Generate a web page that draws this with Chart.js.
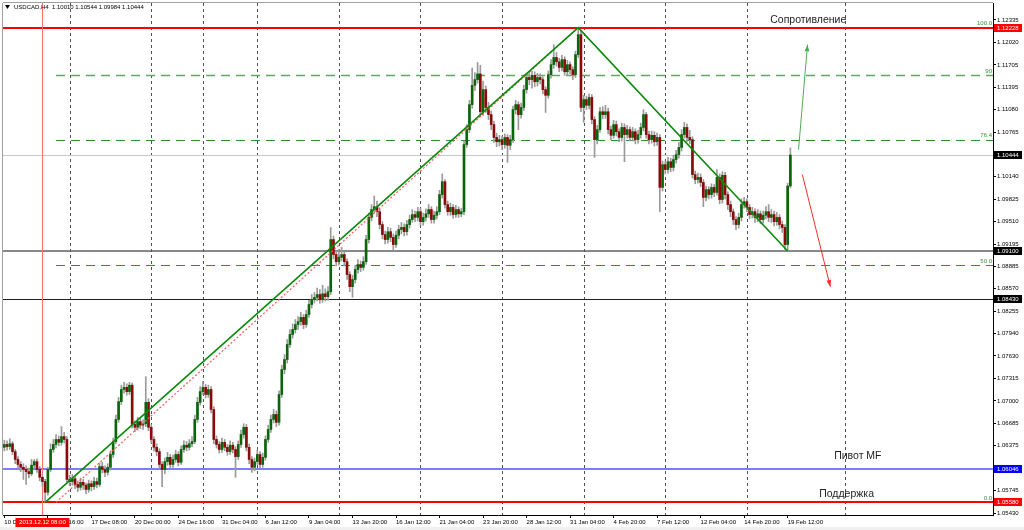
<!DOCTYPE html>
<html>
<head>
<meta charset="utf-8">
<script src="https://cdn.jsdelivr.net/npm/chart.js@4.4.1/dist/chart.umd.min.js"></script>
<style>
  html, body { margin: 0; padding: 0; background: #fff; }
  canvas { display: block; }
</style>
</head>
<body>
<canvas id="chart" width="1024" height="530"></canvas>
<script>
// USDCAD H4, bar 0 = 10 Dec 2013 00:00, last bar = 19 Feb 16:00
const opens = [
  1.0635, 1.0639, 1.0636, 1.0640, 1.0629, 1.0618, 1.0611, 1.0607, 1.0604, 1.0601,
  1.0598, 1.0610, 1.0615, 1.0604, 1.0593, 1.0587, 1.0572, 1.0604, 1.0632, 1.0639,
  1.0646, 1.0642, 1.0650, 1.0646, 1.0590, 1.0587, 1.0591, 1.0583, 1.0579, 1.0586,
  1.0582, 1.0576, 1.0584, 1.0580, 1.0587, 1.0583, 1.0608, 1.0604, 1.0600, 1.0607,
  1.0625, 1.0643, 1.0674, 1.0699, 1.0716, 1.0719, 1.0713, 1.0722, 1.0667, 1.0663,
  1.0671, 1.0666, 1.0668, 1.0698, 1.0663, 1.0646, 1.0635, 1.0629, 1.0611, 1.0604,
  1.0615, 1.0621, 1.0611, 1.0618, 1.0625, 1.0614, 1.0632, 1.0638, 1.0635, 1.0640,
  1.0643, 1.0674, 1.0698, 1.0713, 1.0719, 1.0709, 1.0716, 1.0688, 1.0646, 1.0639,
  1.0632, 1.0642, 1.0635, 1.0629, 1.0638, 1.0632, 1.0622, 1.0639, 1.0653, 1.0663,
  1.0635, 1.0618, 1.0607, 1.0615, 1.0625, 1.0611, 1.0621, 1.0646, 1.0660, 1.0674,
  1.0681, 1.0670, 1.0709, 1.0744, 1.0758, 1.0779, 1.0793, 1.0800, 1.0807, 1.0811,
  1.0817, 1.0807, 1.0821, 1.0835, 1.0842, 1.0845, 1.0849, 1.0842, 1.0850, 1.0846,
  1.0853, 1.0926, 1.0905, 1.0895, 1.0901, 1.0905, 1.0895, 1.0877, 1.0860, 1.0870,
  1.0884, 1.0891, 1.0887, 1.0895, 1.0926, 1.0957, 1.0968, 1.0972, 1.0965, 1.0947,
  1.0933, 1.0926, 1.0937, 1.0929, 1.0919, 1.0932, 1.0940, 1.0943, 1.0937, 1.0947,
  1.0954, 1.0961, 1.0957, 1.0965, 1.0951, 1.0957, 1.0962, 1.0968, 1.0954, 1.0960,
  1.0965, 1.0989, 1.1007, 1.0975, 1.0965, 1.0971, 1.0961, 1.0968, 1.0962, 1.0965,
  1.1059, 1.1080, 1.1115, 1.1142, 1.1150, 1.1158, 1.1105, 1.1136, 1.1111, 1.1101,
  1.1087, 1.1069, 1.1063, 1.1066, 1.1059, 1.1069, 1.1058, 1.1066, 1.1108, 1.1115,
  1.1101, 1.1111, 1.1136, 1.1153, 1.1150, 1.1156, 1.1147, 1.1153, 1.1150, 1.1136,
  1.1128, 1.1157, 1.1171, 1.1181, 1.1175, 1.1167, 1.1178, 1.1161, 1.1171, 1.1164,
  1.1157, 1.1185, 1.1213, 1.1111, 1.1122, 1.1114, 1.1125, 1.1094, 1.1066, 1.1080,
  1.1105, 1.1101, 1.1105, 1.1080, 1.1072, 1.1087, 1.1077, 1.1069, 1.1083, 1.1073,
  1.1080, 1.1069, 1.1077, 1.1066, 1.1073, 1.1083, 1.1101, 1.1073, 1.1066, 1.1072,
  1.1063, 1.1069, 1.0999, 1.1031, 1.1024, 1.1035, 1.1027, 1.1038, 1.1045, 1.1055,
  1.1073, 1.1083, 1.1069, 1.1066, 1.1017, 1.1010, 1.1013, 1.1006, 1.0985, 1.0996,
  1.0989, 1.0999, 1.0992, 1.1013, 1.0982, 1.1016, 1.0989, 1.0975, 1.0965, 1.0954,
  1.0947, 1.0957, 1.0975, 1.0979, 1.0971, 1.0961, 1.0965, 1.0957, 1.0962, 1.0954,
  1.0960, 1.0965, 1.0957, 1.0961, 1.0951, 1.0957, 1.0947, 1.0943, 1.0919, 1.1001
];
const highs = [
  1.0645, 1.0644, 1.0647, 1.0643, 1.0632, 1.0622, 1.0615, 1.0612, 1.0609, 1.0606,
  1.0618, 1.0618, 1.0619, 1.0608, 1.0597, 1.0590, 1.0607, 1.0640, 1.0646, 1.0653,
  1.0651, 1.0664, 1.0656, 1.0650, 1.0596, 1.0597, 1.0594, 1.0588, 1.0592, 1.0590,
  1.0585, 1.0589, 1.0588, 1.0593, 1.0592, 1.0613, 1.0614, 1.0609, 1.0612, 1.0630,
  1.0648, 1.0680, 1.0705, 1.0722, 1.0726, 1.0724, 1.0726, 1.0725, 1.0672, 1.0677,
  1.0675, 1.0674, 1.0734, 1.0703, 1.0667, 1.0650, 1.0640, 1.0633, 1.0615, 1.0620,
  1.0628, 1.0625, 1.0624, 1.0631, 1.0629, 1.0637, 1.0644, 1.0643, 1.0646, 1.0650,
  1.0680, 1.0705, 1.0720, 1.0727, 1.0723, 1.0722, 1.0720, 1.0692, 1.0651, 1.0643,
  1.0648, 1.0646, 1.0639, 1.0644, 1.0642, 1.0636, 1.0644, 1.0659, 1.0668, 1.0667,
  1.0640, 1.0622, 1.0620, 1.0631, 1.0629, 1.0627, 1.0651, 1.0666, 1.0680, 1.0688,
  1.0686, 1.0714, 1.0750, 1.0765, 1.0786, 1.0800, 1.0808, 1.0814, 1.0818, 1.0824,
  1.0821, 1.0827, 1.0841, 1.0849, 1.0852, 1.0858, 1.0856, 1.0862, 1.0857, 1.0860,
  1.0943, 1.0931, 1.0910, 1.0912, 1.0915, 1.0909, 1.0899, 1.0881, 1.0876, 1.0890,
  1.0898, 1.0896, 1.0902, 1.0932, 1.0963, 1.0975, 1.0987, 1.0980, 1.0969, 1.0951,
  1.0938, 1.0943, 1.0942, 1.0934, 1.0938, 1.0946, 1.0950, 1.0948, 1.0953, 1.0960,
  1.0968, 1.0966, 1.0971, 1.0970, 1.0963, 1.0969, 1.0975, 1.0972, 1.0966, 1.0972,
  1.0995, 1.1018, 1.1010, 1.0980, 1.0977, 1.0975, 1.0974, 1.0972, 1.0970, 1.1064,
  1.1087, 1.1121, 1.1166, 1.1160, 1.1174, 1.1170, 1.1148, 1.1141, 1.1118, 1.1106,
  1.1092, 1.1075, 1.1072, 1.1071, 1.1074, 1.1073, 1.1072, 1.1113, 1.1121, 1.1119,
  1.1117, 1.1142, 1.1159, 1.1160, 1.1162, 1.1161, 1.1159, 1.1158, 1.1154, 1.1140,
  1.1162, 1.1178, 1.1199, 1.1188, 1.1180, 1.1184, 1.1182, 1.1177, 1.1175, 1.1168,
  1.1190, 1.12228, 1.1218, 1.1128, 1.1127, 1.1130, 1.1129, 1.1098, 1.1086, 1.1111,
  1.1112, 1.1114, 1.1110, 1.1085, 1.1093, 1.1092, 1.1081, 1.1089, 1.1088, 1.1086,
  1.1084, 1.1083, 1.1081, 1.1079, 1.1089, 1.1108, 1.1104, 1.1078, 1.1078, 1.1077,
  1.1075, 1.1073, 1.1036, 1.1036, 1.1041, 1.1040, 1.1044, 1.1051, 1.1062, 1.1080,
  1.1090, 1.1088, 1.1079, 1.1070, 1.1022, 1.1019, 1.1018, 1.1010, 1.1001, 1.1000,
  1.1004, 1.1003, 1.1024, 1.1018, 1.1021, 1.1020, 1.0993, 1.0980, 1.0969, 1.0958,
  1.0963, 1.0983, 1.0985, 1.0983, 1.0975, 1.0971, 1.0969, 1.0968, 1.0966, 1.0966,
  1.0972, 1.0975, 1.0968, 1.0966, 1.0964, 1.0961, 1.0952, 1.0947, 1.1005, 1.10544
];
const lows = [
  1.0630, 1.0631, 1.0632, 1.0625, 1.0612, 1.0605, 1.0601, 1.0590, 1.0583, 1.0592,
  1.0595, 1.0606, 1.0600, 1.0588, 1.0580, 1.0558, 1.0568, 1.0601, 1.0628, 1.0634,
  1.0637, 1.0638, 1.0641, 1.0586, 1.0581, 1.0582, 1.0577, 1.0573, 1.0575, 1.0576,
  1.0570, 1.0572, 1.0574, 1.0576, 1.0578, 1.0580, 1.0599, 1.0594, 1.0596, 1.0603,
  1.0621, 1.0640, 1.0670, 1.0695, 1.0711, 1.0708, 1.0709, 1.0662, 1.0657, 1.0659,
  1.0661, 1.0660, 1.0664, 1.0658, 1.0641, 1.0630, 1.0623, 1.0605, 1.0580, 1.0598,
  1.0610, 1.0606, 1.0607, 1.0614, 1.0609, 1.0611, 1.0628, 1.0630, 1.0631, 1.0636,
  1.0640, 1.0670, 1.0694, 1.0709, 1.0704, 1.0705, 1.0683, 1.0640, 1.0634, 1.0627,
  1.0628, 1.0630, 1.0624, 1.0625, 1.0627, 1.0593, 1.0618, 1.0635, 1.0648, 1.0630,
  1.0612, 1.0600, 1.0602, 1.0611, 1.0606, 1.0607, 1.0617, 1.0642, 1.0656, 1.0669,
  1.0664, 1.0666, 1.0705, 1.0738, 1.0753, 1.0775, 1.0788, 1.0795, 1.0800, 1.0806,
  1.0801, 1.0803, 1.0817, 1.0830, 1.0837, 1.0840, 1.0837, 1.0838, 1.0840, 1.0841,
  1.0849, 1.0899, 1.0889, 1.0890, 1.0896, 1.0889, 1.0870, 1.0853, 1.0845, 1.0865,
  1.0879, 1.0881, 1.0883, 1.0891, 1.0921, 1.0952, 1.0963, 1.0958, 1.0941, 1.0927,
  1.0920, 1.0921, 1.0923, 1.0912, 1.0915, 1.0927, 1.0934, 1.0931, 1.0932, 1.0942,
  1.0950, 1.0951, 1.0952, 1.0946, 1.0946, 1.0952, 1.0957, 1.0949, 1.0949, 1.0955,
  1.0961, 1.0984, 1.0970, 1.0960, 1.0960, 1.0956, 1.0957, 1.0957, 1.0958, 1.0961,
  1.1055, 1.1076, 1.1110, 1.1135, 1.1145, 1.1098, 1.1100, 1.1104, 1.1094, 1.1080,
  1.1062, 1.1056, 1.1057, 1.1052, 1.1054, 1.1034, 1.1052, 1.1062, 1.1102, 1.1080,
  1.1096, 1.1107, 1.1131, 1.1143, 1.1138, 1.1140, 1.1141, 1.1144, 1.1130, 1.1104,
  1.1124, 1.1152, 1.1166, 1.1169, 1.1161, 1.1162, 1.1156, 1.1156, 1.1158, 1.1150,
  1.1153, 1.1181, 1.1105, 1.1090, 1.1108, 1.1109, 1.1088, 1.1041, 1.1060, 1.1076,
  1.1095, 1.1096, 1.1074, 1.1066, 1.1068, 1.1071, 1.1063, 1.1064, 1.1035, 1.1068,
  1.1064, 1.1064, 1.1060, 1.1061, 1.1068, 1.1078, 1.1068, 1.1060, 1.1061, 1.1057,
  1.1058, 1.0965, 1.0994, 1.1018, 1.1019, 1.1021, 1.1022, 1.1033, 1.1040, 1.1050,
  1.1068, 1.1063, 1.1060, 1.1012, 1.1004, 1.1005, 1.1000, 1.0972, 1.0980, 1.0983,
  1.0984, 1.0986, 1.0988, 1.0976, 1.0977, 1.0983, 1.0968, 1.0958, 1.0947, 1.0940,
  1.0942, 1.0952, 1.0970, 1.0965, 1.0955, 1.0956, 1.0950, 1.0951, 1.0948, 1.0949,
  1.0955, 1.0951, 1.0950, 1.0945, 1.0946, 1.0941, 1.0936, 1.0912, 1.0910, 1.09984
];
const closes = [
  1.0639, 1.0636, 1.0640, 1.0629, 1.0618, 1.0611, 1.0607, 1.0604, 1.0601, 1.0598,
  1.0610, 1.0615, 1.0604, 1.0593, 1.0587, 1.0572, 1.0604, 1.0632, 1.0639, 1.0646,
  1.0642, 1.0650, 1.0646, 1.0590, 1.0587, 1.0591, 1.0583, 1.0579, 1.0586, 1.0582,
  1.0576, 1.0584, 1.0580, 1.0587, 1.0583, 1.0608, 1.0604, 1.0600, 1.0607, 1.0625,
  1.0643, 1.0674, 1.0699, 1.0716, 1.0719, 1.0713, 1.0722, 1.0667, 1.0663, 1.0671,
  1.0666, 1.0668, 1.0698, 1.0663, 1.0646, 1.0635, 1.0629, 1.0611, 1.0604, 1.0615,
  1.0621, 1.0611, 1.0618, 1.0625, 1.0614, 1.0632, 1.0638, 1.0635, 1.0640, 1.0643,
  1.0674, 1.0698, 1.0713, 1.0719, 1.0709, 1.0716, 1.0688, 1.0646, 1.0639, 1.0632,
  1.0642, 1.0635, 1.0629, 1.0638, 1.0632, 1.0622, 1.0639, 1.0653, 1.0663, 1.0635,
  1.0618, 1.0607, 1.0615, 1.0625, 1.0611, 1.0621, 1.0646, 1.0660, 1.0674, 1.0681,
  1.0670, 1.0709, 1.0744, 1.0758, 1.0779, 1.0793, 1.0800, 1.0807, 1.0811, 1.0817,
  1.0807, 1.0821, 1.0835, 1.0842, 1.0845, 1.0849, 1.0842, 1.0850, 1.0846, 1.0853,
  1.0926, 1.0905, 1.0895, 1.0901, 1.0905, 1.0895, 1.0877, 1.0860, 1.0870, 1.0884,
  1.0891, 1.0887, 1.0895, 1.0926, 1.0957, 1.0968, 1.0972, 1.0965, 1.0947, 1.0933,
  1.0926, 1.0937, 1.0929, 1.0919, 1.0932, 1.0940, 1.0943, 1.0937, 1.0947, 1.0954,
  1.0961, 1.0957, 1.0965, 1.0951, 1.0957, 1.0962, 1.0968, 1.0954, 1.0960, 1.0965,
  1.0989, 1.1007, 1.0975, 1.0965, 1.0971, 1.0961, 1.0968, 1.0962, 1.0965, 1.1059,
  1.1080, 1.1115, 1.1142, 1.1150, 1.1158, 1.1105, 1.1136, 1.1111, 1.1101, 1.1087,
  1.1069, 1.1063, 1.1066, 1.1059, 1.1069, 1.1058, 1.1066, 1.1108, 1.1115, 1.1101,
  1.1111, 1.1136, 1.1153, 1.1150, 1.1156, 1.1147, 1.1153, 1.1150, 1.1136, 1.1128,
  1.1157, 1.1171, 1.1181, 1.1175, 1.1167, 1.1178, 1.1161, 1.1171, 1.1164, 1.1157,
  1.1185, 1.1213, 1.1111, 1.1122, 1.1114, 1.1125, 1.1094, 1.1066, 1.1080, 1.1105,
  1.1101, 1.1105, 1.1080, 1.1072, 1.1087, 1.1077, 1.1069, 1.1083, 1.1073, 1.1080,
  1.1069, 1.1077, 1.1066, 1.1073, 1.1083, 1.1101, 1.1073, 1.1066, 1.1072, 1.1063,
  1.1069, 1.0999, 1.1031, 1.1024, 1.1035, 1.1027, 1.1038, 1.1045, 1.1055, 1.1073,
  1.1083, 1.1069, 1.1066, 1.1017, 1.1010, 1.1013, 1.1006, 1.0985, 1.0996, 1.0989,
  1.0999, 1.0992, 1.1013, 1.0982, 1.1016, 1.0989, 1.0975, 1.0965, 1.0954, 1.0947,
  1.0957, 1.0975, 1.0979, 1.0971, 1.0961, 1.0965, 1.0957, 1.0962, 1.0954, 1.0960,
  1.0965, 1.0957, 1.0961, 1.0951, 1.0957, 1.0947, 1.0943, 1.0919, 1.1001, 1.10444
];

// time axis: one label every 16 bars
const tickBars = [0, 16, 32, 48, 64, 80, 96, 112, 128, 144, 160, 176, 192, 208, 224, 240, 256, 272, 288];
const tickLabels = ['10 Dec 2013', '12 Dec 16:00', '17 Dec 08:00', '20 Dec 00:00', '24 Dec 16:00',
  '31 Dec 04:00', '6 Jan 12:00', '9 Jan 04:00', '13 Jan 20:00', '16 Jan 12:00', '21 Jan 04:00',
  '23 Jan 20:00', '28 Jan 12:00', '31 Jan 04:00', '4 Feb 20:00', '7 Feb 12:00', '12 Feb 04:00',
  '14 Feb 20:00', '19 Feb 12:00'];
const gridBars = [24, 54, 73, 93, 123, 153, 183, 213, 243, 273, 309];
const priceTicks = [1.12335, 1.12020, 1.11705, 1.11395, 1.11080, 1.10765, 1.10140, 1.09825,
  1.09510, 1.09195, 1.08885, 1.08570, 1.08255, 1.07940, 1.07630, 1.07315, 1.07000, 1.06685,
  1.06375, 1.05745, 1.05430];

// drawn objects
const levelPrices = [1.12228, 1.10444, 1.09100, 1.08430, 1.06046, 1.05580];
const fibLow = 1.05580, fibHigh = 1.12228, fibStartBar = 19;
const fibLevels = [0, 50, 76.4, 90, 100];
const markerBar = 14;
const markerLabel = '2013.12.12 08:00';
const trendBars = [15, 211, 288];
const trendPrices = [1.0558, 1.12228, 1.0910];
const dotBars = [19, 211];
const dotPrices = [1.0558, 1.12228];
const upArrowBars = [292, 295.3];
const upArrowPrices = [1.1052, 1.1199];
const downArrowBars = [293.4, 303.7];
const downArrowPrices = [1.1017, 1.0860];

const FONT = '"Liberation Sans", Arial, sans-serif';
const bars = closes.map((c, i) => i);
const pts = (xs, ys) => xs.map((v, i) => ({ x: v, y: ys[i] }));

function hline(ctx, x1, x2, y) {
  ctx.beginPath(); ctx.moveTo(x1, y); ctx.lineTo(x2, y); ctx.stroke();
}
function vline(ctx, x, y1, y2) {
  ctx.beginPath(); ctx.moveTo(x, y1); ctx.lineTo(x, y2); ctx.stroke();
}
function arrowHead(ctx, x1, y1, x2, y2, color) {
  const ang = Math.atan2(y2 - y1, x2 - x1);
  ctx.fillStyle = color;
  ctx.beginPath();
  ctx.moveTo(x2, y2);
  ctx.lineTo(x2 - 7 * Math.cos(ang - 0.35), y2 - 7 * Math.sin(ang - 0.35));
  ctx.lineTo(x2 - 7 * Math.cos(ang + 0.35), y2 - 7 * Math.sin(ang + 0.35));
  ctx.closePath();
  ctx.fill();
}

const overlay = {
  id: 'overlay',
  beforeDatasetsDraw(chart) {
    const { ctx, chartArea: a, scales: { x, y } } = chart;
    ctx.save();
    // weekly grid
    ctx.strokeStyle = '#505050';
    ctx.lineWidth = 1;
    ctx.setLineDash([3, 3]);
    gridBars.forEach(b => vline(ctx, Math.round(x.getPixelForValue(b)) + 0.5, a.top, a.bottom));
    // fibonacci levels
    ctx.setLineDash([9, 6]);
    const fx = x.getPixelForValue(fibStartBar);
    fibLevels.forEach(r => {
      if (r === 0 || r === 100) return;
      ctx.strokeStyle = r === 90 ? '#5fa85f' : '#2f8f2f';
      ctx.lineWidth = r === 90 ? 1.5 : 1;
      hline(ctx, fx, a.right, Math.round(y.getPixelForValue(fibLow + (fibHigh - fibLow) * r / 100)) + 0.5);
    });
    ctx.setLineDash([]);
    // horizontal levels
    const lvColors = ['#ff0000', '#c8c8c8', '#606060', '#202020', '#5050ff', '#ff0000'];
    const lvWidths = [2, 1, 1.5, 1, 1.5, 2];
    levelPrices.forEach((p, i) => {
      ctx.strokeStyle = lvColors[i];
      ctx.lineWidth = lvWidths[i];
      const py = Math.round(y.getPixelForValue(p)) + (lvWidths[i] === 1 ? 0.5 : 0);
      hline(ctx, a.left, a.right, py);
    });
    // time marker
    ctx.strokeStyle = '#ff7070';
    ctx.lineWidth = 1;
    vline(ctx, Math.round(x.getPixelForValue(markerBar)) + 0.5, a.top, a.bottom);
    ctx.restore();
  },
  afterDraw(chart) {
    const { ctx, chartArea: a, scales: { x, y } } = chart;
    ctx.save();
    // frame
    ctx.lineWidth = 1;
    ctx.strokeStyle = '#a0a0a0';
    vline(ctx, a.left - 0.5, a.top, a.bottom);
    hline(ctx, a.left, a.right, a.top - 0.5);
    // arrow heads
    const p = (b, v) => [x.getPixelForValue(b), y.getPixelForValue(v)];
    let s = p(upArrowBars[0], upArrowPrices[0]), e = p(upArrowBars[1], upArrowPrices[1]);
    arrowHead(ctx, s[0], s[1], e[0], e[1], '#4caf50');
    s = p(downArrowBars[0], downArrowPrices[0]); e = p(downArrowBars[1], downArrowPrices[1]);
    arrowHead(ctx, s[0], s[1], e[0], e[1], '#ff2a2a');
    // fib labels
    ctx.font = '6px ' + FONT;
    ctx.fillStyle = '#3a8a3a';
    ctx.textAlign = 'right';
    ctx.textBaseline = 'bottom';
    fibLevels.forEach(r => {
      const py = y.getPixelForValue(fibLow + (fibHigh - fibLow) * r / 100);
      ctx.fillText(r === 90 ? '90' : r.toFixed(1), a.right - 1, py - 1);
    });
    // notes
    ctx.font = '10.5px ' + FONT;
    ctx.fillStyle = '#1e1e1e';
    ctx.textAlign = 'left';
    ctx.textBaseline = 'middle';
    ctx.fillText('Сопротивление', x.getPixelForValue(281.6), y.getPixelForValue(1.12335));
    ctx.fillText('Пивот MF', x.getPixelForValue(305.1), y.getPixelForValue(1.0622));
    ctx.fillText('Поддержка', x.getPixelForValue(299.6), y.getPixelForValue(1.0569));
    // price boxes
    const boxColors = ['#ff0000', '#000000', '#000000', '#000000', '#0000ff', '#ff0000'];
    ctx.font = '6px ' + FONT;
    levelPrices.forEach((v, i) => {
      const py = Math.round(y.getPixelForValue(v));
      ctx.fillStyle = boxColors[i];
      ctx.fillRect(a.right + 1, py - 4, 28, 8);
      ctx.fillStyle = '#fff';
      ctx.fillText(v.toFixed(5), a.right + 4, py);
    });
    // time marker box
    const mx = x.getPixelForValue(markerBar);
    ctx.fillStyle = '#ff0000';
    ctx.fillRect(mx - 27, a.bottom + 3, 54, 9);
    ctx.fillStyle = '#fff';
    ctx.textAlign = 'center';
    ctx.fillText(markerLabel, mx, a.bottom + 7.5);
    // header
    ctx.fillStyle = '#000';
    ctx.beginPath();
    ctx.moveTo(5, 5); ctx.lineTo(10, 5); ctx.lineTo(7.5, 9); ctx.closePath(); ctx.fill();
    ctx.textAlign = 'left';
    ctx.fillText('USDCAD,H4  1.10010 1.10544 1.09984 1.10444', 14, 7.5);
    // bottom strip
    ctx.fillStyle = '#f0f0f0';
    ctx.fillRect(0, 527, 1024, 3);
    ctx.restore();
  }
};

new Chart(document.getElementById('chart'), {
  type: 'bar',
  data: {
    datasets: [
      {
        type: 'line', data: pts(trendBars, trendPrices), borderColor: '#0a8a0a', borderWidth: 1.6,
        pointRadius: 0, order: 0
      },
      {
        type: 'line', data: pts(dotBars, dotPrices), borderColor: '#ff5a5a', borderWidth: 1.2,
        borderDash: [2, 2], pointRadius: 0, order: 0
      },
      {
        type: 'line', data: pts(upArrowBars, upArrowPrices), borderColor: '#4caf50', borderWidth: 1,
        pointRadius: 0, order: 0
      },
      {
        type: 'line', data: pts(downArrowBars, downArrowPrices), borderColor: '#ff2a2a', borderWidth: 1,
        pointRadius: 0, order: 0
      },
      {
        data: bars.map(i => ({ x: i, y: [opens[i], closes[i]] })),
        backgroundColor: bars.map(i => closes[i] >= opens[i] ? '#0b640b' : '#8a0a0a'),
        barThickness: 2, grouped: false, order: 1
      },
      {
        data: bars.map(i => ({ x: i, y: [lows[i], highs[i]] })),
        backgroundColor: '#9a9a9a',
        barThickness: 1, grouped: false, order: 2
      }
    ]
  },
  options: {
    responsive: false,
    animation: false,
    layout: { padding: { left: 3, top: 3, right: 0, bottom: 0 } },
    plugins: { legend: { display: false }, tooltip: { enabled: false } },
    scales: {
      x: {
        type: 'linear', min: -0.5, max: 363.5, offset: false,
        grid: { drawOnChartArea: false, tickLength: 3, color: '#000', offset: false },
        border: { color: '#000' },
        ticks: {
          align: 'start', autoSkip: false, maxRotation: 0, padding: 1, color: '#000',
          font: { family: FONT, size: 6 },
          callback: v => tickLabels[tickBars.indexOf(v)]
        },
        afterBuildTicks: s => { s.ticks = tickBars.map(v => ({ value: v })); },
        afterFit: s => { s.height = 15; s.paddingLeft = 0; s.paddingRight = 0; }
      },
      y: {
        position: 'right', min: 1.05402, max: 1.12573,
        grid: { drawOnChartArea: false, tickLength: 3, color: '#000' },
        border: { color: '#000' },
        ticks: {
          padding: 1, color: '#000', autoSkip: false,
          font: { family: FONT, size: 6 },
          callback: v => v.toFixed(5)
        },
        afterBuildTicks: s => { s.ticks = priceTicks.map(v => ({ value: v })); },
        afterFit: s => { s.width = 31; s.paddingTop = 0; s.paddingBottom = 0; }
      }
    }
  },
  plugins: [overlay]
});
</script>
</body>
</html>
